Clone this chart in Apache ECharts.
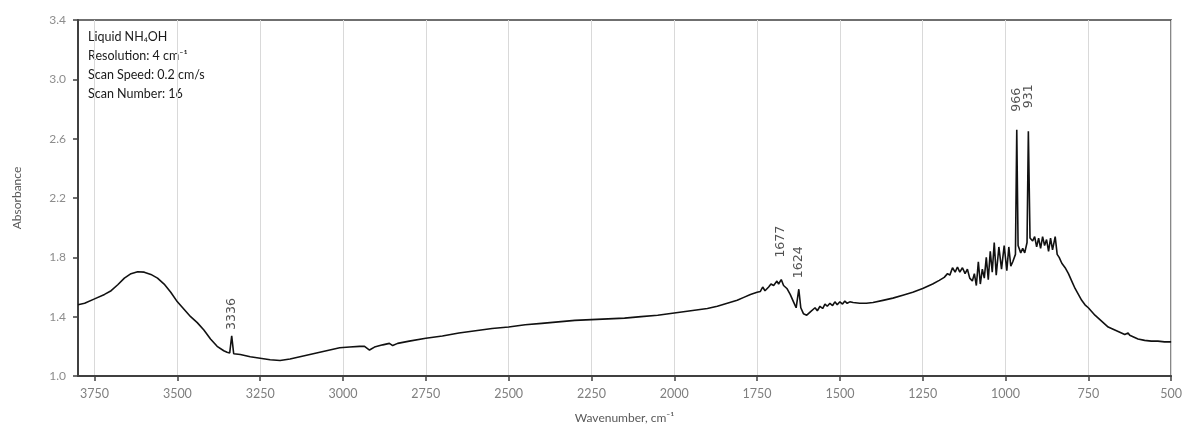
<!DOCTYPE html>
<html>
<head>
<meta charset="utf-8">
<script src="https://cdn.jsdelivr.net/npm/echarts@6/dist/echarts.min.js"></script>
<style>
html,body{margin:0;padding:0;background:#fff;}
#chart{width:1185px;height:430px;}
</style>
</head>
<body>
<div id="chart"></div>
<script>
// Wavenumbers (cm-1) and absorbance
const wavenumbers = [
3800,3780,3750,3720,3700,3680,3660,3640,3620,3600,3580,3560,3540,3520,3500,3480,3460,3440,3420,3400,3380,3360,3350,3342,3336,3330,3310,3280,3250,3220,3190,3160,3130,3100,3070,3040,3010,2980,2950,2935,2920,2905,2880,2860,2850,2835,2800,2750,2700,2650,2600,2550,2500,2450,2400,2350,2300,2250,2200,2150,2100,2050,2000,1950,1900,1870,1840,1810,1790,1770,1750,1740,1733,1726,1715,1708,1700,1690,1685,1677,1670,1660,1650,1640,1632,1624,1618,1610,1600,1590,1585,1575,1568,1560,1552,1545,1538,1530,1522,1515,1508,1500,1492,1485,1478,1470,1460,1440,1420,1400,1370,1340,1310,1280,1250,1220,1200,1185,1175,1168,1160,1152,1145,1138,1130,1122,1115,1108,1100,1094,1088,1082,1076,1070,1064,1058,1052,1046,1040,1034,1028,1020,1012,1004,996,990,984,978,970,966,962,954,948,942,935,931,926,918,912,906,900,894,888,882,876,870,864,858,850,844,838,830,820,810,800,790,780,770,760,750,730,710,690,670,650,640,630,625,600,580,560,540,520,500
];
const absorbance = [
1.48,1.49,1.52,1.55,1.575,1.615,1.66,1.69,1.703,1.70,1.685,1.66,1.62,1.565,1.50,1.45,1.40,1.36,1.31,1.25,1.20,1.17,1.16,1.155,1.27,1.15,1.145,1.13,1.12,1.11,1.105,1.115,1.13,1.145,1.16,1.175,1.19,1.195,1.20,1.20,1.175,1.195,1.21,1.22,1.205,1.22,1.235,1.255,1.27,1.29,1.305,1.32,1.33,1.345,1.355,1.365,1.375,1.38,1.385,1.39,1.40,1.41,1.425,1.44,1.455,1.47,1.49,1.51,1.53,1.55,1.565,1.57,1.60,1.575,1.60,1.62,1.61,1.64,1.62,1.65,1.61,1.59,1.55,1.50,1.46,1.585,1.46,1.42,1.41,1.43,1.42,1.46,1.44,1.47,1.455,1.485,1.47,1.49,1.475,1.50,1.48,1.50,1.485,1.505,1.49,1.50,1.495,1.49,1.49,1.495,1.51,1.525,1.545,1.565,1.59,1.62,1.645,1.665,1.69,1.68,1.73,1.70,1.735,1.70,1.73,1.69,1.72,1.66,1.64,1.69,1.61,1.77,1.62,1.72,1.66,1.80,1.65,1.84,1.70,1.90,1.68,1.87,1.72,1.88,1.71,1.87,1.74,1.77,1.82,2.66,1.88,1.83,1.86,1.83,1.90,2.65,1.93,1.91,1.94,1.87,1.93,1.86,1.94,1.88,1.92,1.84,1.93,1.85,1.94,1.82,1.80,1.76,1.73,1.69,1.64,1.59,1.55,1.51,1.48,1.46,1.41,1.37,1.33,1.31,1.29,1.28,1.29,1.275,1.25,1.24,1.235,1.235,1.23,1.23
];
const peakWavenumbers = [3336,1677,1624,966,931];
const peakLabels = ['3336','1677','1624','966','931'];
const xTicks = {min:500, max:3800, step:250};
const yTicks = {min:1.0, max:3.4, step:0.4};
const infoLines = ['Liquid NH\u2084OH','Resolution: 4 cm\u207B\u00B9','Scan Speed: 0.2 cm/s','Scan Number: 16'];
const xTitle = 'Wavenumber, cm\u207B\u00B9';
const yTitle = 'Absorbance';

const spectrum = wavenumbers.map((w,i)=>[w,absorbance[i]]);
const labelGap = {3336:6, 1677:22, 1624:11, 966:18, 931:23};
const peakData = peakWavenumbers.map((w,i)=>{
  const idx = wavenumbers.indexOf(w);
  return {
    value:[w, absorbance[idx]],
    name: peakLabels[i],
    label:{distance: labelGap[w]}
  };
});

const chart = echarts.init(document.getElementById('chart'));
const font = 'Lato, "Open Sans", sans-serif';
chart.setOption({
  animation:false,
  backgroundColor:'#ffffff',
  grid:{left:78, right:11, top:20, bottom:54, show:true, borderColor:'#404040', borderWidth:1.5},
  xAxis:{
    type:'value', inverse:true, min:xTicks.min, max:xTicks.max, interval:xTicks.step,
    name:xTitle, nameLocation:'middle', nameGap:36,
    nameTextStyle:{color:'#595959', fontSize:12, fontFamily:font},
    axisLine:{show:true, onZero:false, lineStyle:{color:'#404040', width:2}},
    axisTick:{show:true, length:5, lineStyle:{color:'#404040', width:1.5}},
    axisLabel:{color:'#7f7f7f', fontSize:12.5, fontFamily:font, margin:11, showMaxLabel:false, formatter:v=>String(v)},
    splitLine:{show:true, lineStyle:{color:'#d9d9d9', width:1}}
  },
  yAxis:{
    type:'value', min:yTicks.min, max:yTicks.max, interval:yTicks.step,
    name:yTitle, nameLocation:'middle', nameGap:55,
    nameTextStyle:{color:'#595959', fontSize:12, fontFamily:font},
    axisLine:{show:true, lineStyle:{color:'#404040', width:2}},
    axisTick:{show:true, length:5, lineStyle:{color:'#404040', width:1.5}},
    axisLabel:{color:'#8c8c8c', fontSize:12, fontFamily:font, margin:12, formatter:v=>v.toFixed(1)},
    splitLine:{show:false}
  },
  graphic:[{
    type:'group', left:88, top:30,
    children: infoLines.map((t,i)=>({
      type:'text', left:0, top:i*19,
      style:{text:t, fill:'#1a1a1a', font:'12.5px '+font}
    }))
  }],
  series:[
    {
      type:'line', data:spectrum, showSymbol:false, symbol:'none',
      lineStyle:{color:'#111111', width:1.6}, z:3
    },
    {
      type:'scatter', data:peakData, symbolSize:0, z:4,
      label:{
        show:true, position:'top', rotate:90, align:'left', verticalAlign:'middle',
        formatter:p=>p.name, color:'#262626', fontSize:12.5, fontFamily:'"DejaVu Sans", sans-serif'
      }
    }
  ]
});
</script>
</body>
</html>
